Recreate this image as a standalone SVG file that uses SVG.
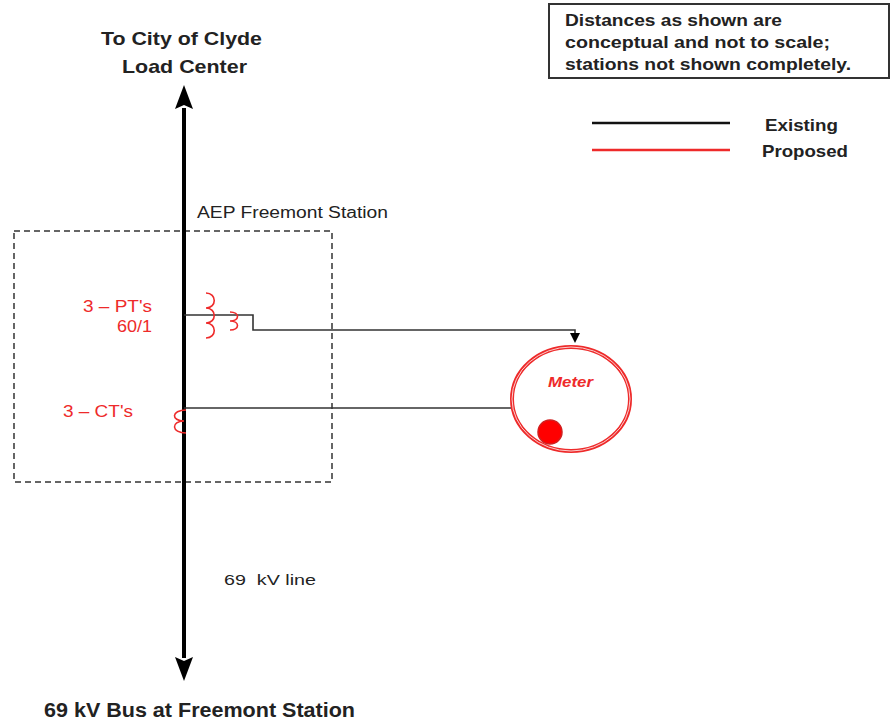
<svg xmlns="http://www.w3.org/2000/svg" width="891" height="727" viewBox="0 0 891 727">
<style>
text{font-family:"Liberation Sans",Arial,sans-serif;fill:#222}
.b{font-weight:bold}
.red{fill:#ee2a2a}
.coil{fill:none;stroke:#ee2a2a;stroke-width:1.6}
.wire{fill:none;stroke:#333;stroke-width:1.6}
</style>
<defs>
<marker id="bigArrow" viewBox="0 0 24 18" refX="1" refY="9" markerWidth="24" markerHeight="18" markerUnits="userSpaceOnUse" orient="auto-start-reverse">
<path d="M0,0 L24,9 L0,18 L4,9 Z" fill="#000"/>
</marker>
<marker id="smallArrow" viewBox="0 0 10 10" refX="1" refY="5" markerWidth="10" markerHeight="10" markerUnits="userSpaceOnUse" orient="auto">
<path d="M0,0 L10,5 L0,10 Z" fill="#000"/>
</marker>
</defs>
<rect width="891" height="727" fill="#fff"/>

<g id="note">
<rect x="549" y="4" width="340" height="74" fill="#fff" stroke="#333" stroke-width="2"/>
<text class="b" x="565" y="26" font-size="16" textLength="217" lengthAdjust="spacingAndGlyphs">Distances as shown are</text>
<text class="b" x="565" y="48" font-size="16" textLength="265" lengthAdjust="spacingAndGlyphs">conceptual and not to scale;</text>
<text class="b" x="565" y="70" font-size="16" textLength="286" lengthAdjust="spacingAndGlyphs">stations not shown completely.</text>
</g>

<g id="legend">
<line x1="592" y1="123" x2="730" y2="123" stroke="#111" stroke-width="2.5"/>
<line x1="592" y1="150" x2="730" y2="150" stroke="#ee2a2a" stroke-width="2.5"/>
<text class="b" x="765" y="131" font-size="17" textLength="73" lengthAdjust="spacingAndGlyphs">Existing</text>
<text class="b" x="762" y="157" font-size="17" textLength="86" lengthAdjust="spacingAndGlyphs">Proposed</text>
</g>

<g id="top-label">
<text class="b" x="101" y="45" font-size="19" textLength="161" lengthAdjust="spacingAndGlyphs">To City of Clyde</text>
<text class="b" x="122" y="73" font-size="19" textLength="125" lengthAdjust="spacingAndGlyphs">Load Center</text>
</g>

<g id="station">
<rect x="14" y="231" width="318" height="251" fill="none" stroke="#333" stroke-width="1.5" stroke-dasharray="6,4"/>
<text x="197" y="218" font-size="16" textLength="191" lengthAdjust="spacingAndGlyphs">AEP Freemont Station</text>
</g>

<g id="connectors">
<line x1="184" y1="108" x2="184" y2="658" stroke="#000" stroke-width="4" marker-start="url(#bigArrow)" marker-end="url(#bigArrow)"/>
<polyline class="wire" points="184,315 253,315 253,330 575,330 575,334" marker-end="url(#smallArrow)"/>
<line class="wire" x1="184" y1="408" x2="512" y2="408"/>
</g>

<g id="pt">
<path class="coil" d="M206,293 C217,293 217,308 206,308 C217,308 217,323 206,323 C217,323 217,338 206,338"/>
<path class="coil" d="M230,312 C240,312 240,321 230,321 C240,321 240,330 230,330"/>
<text class="red" x="83" y="312" font-size="16" textLength="69" lengthAdjust="spacingAndGlyphs">3 – PT's</text>
<text class="red" x="117" y="332" font-size="16" textLength="35" lengthAdjust="spacingAndGlyphs">60/1</text>
</g>

<g id="ct">
<path class="coil" d="M186,410 C171,410 171,421 184,421 C171,421 171,433 186,433"/>
<text class="red" x="63" y="417" font-size="16" textLength="70" lengthAdjust="spacingAndGlyphs">3 – CT's</text>
</g>

<g id="meter">
<ellipse cx="571" cy="399" rx="59" ry="52" fill="#fff" stroke="#ee2a2a" stroke-width="4"/>
<ellipse cx="571" cy="399" rx="59" ry="52" fill="none" stroke="#fbd0d0" stroke-width="1"/>
<text class="red b" x="548" y="387" font-size="15" font-style="italic" textLength="45" lengthAdjust="spacingAndGlyphs">Meter</text>
<circle cx="550" cy="432" r="12" fill="#f00" stroke="#d02020" stroke-width="1.5"/>
</g>

<g id="line-label">
<text x="224" y="585" font-size="15" textLength="92" lengthAdjust="spacingAndGlyphs" xml:space="preserve">69  kV line</text>
</g>

<g id="bottom-label">
<text class="b" x="44" y="717" font-size="20" textLength="311" lengthAdjust="spacingAndGlyphs">69 kV Bus at Freemont Station</text>
</g>
</svg>
